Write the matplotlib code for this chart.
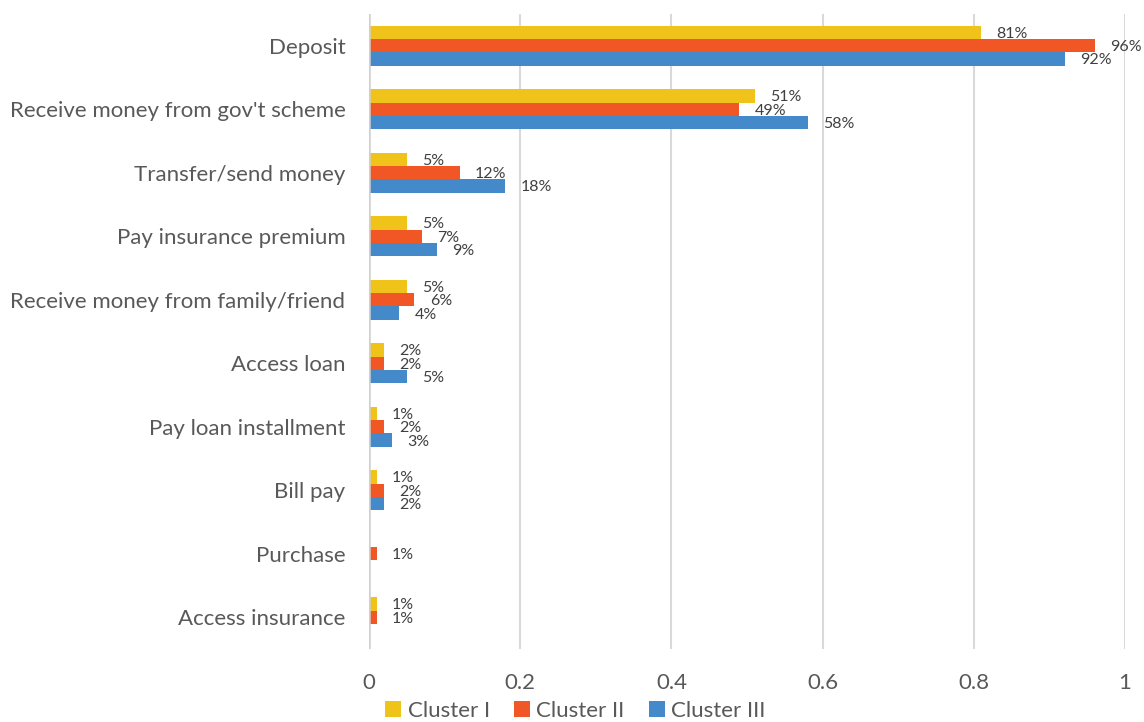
import numpy as np
import matplotlib.pyplot as plt

plt.rcParams['font.family'] = ['Lato', 'DejaVu Sans']

categories = ["Deposit", "Receive money from gov't scheme", "Transfer/send money",
              "Pay insurance premium", "Receive money from family/friend", "Access loan",
              "Pay loan installment", "Bill pay", "Purchase", "Access insurance"]
series_names = ["Cluster I", "Cluster II", "Cluster III"]
cluster_1 = [0.81, 0.51, 0.05, 0.05, 0.05, 0.02, 0.01, 0.01, np.nan, 0.01]
cluster_2 = [0.96, 0.49, 0.12, 0.07, 0.06, 0.02, 0.02, 0.02, 0.01, 0.01]
cluster_3 = [0.92, 0.58, 0.18, 0.09, 0.04, 0.05, 0.03, 0.02, np.nan, np.nan]
colors = ["#F0C31A", "#F15724", "#448ACA"]

fig = plt.figure(figsize=(11.44, 7.22), dpi=100)
ax = fig.add_axes([0.3226, 0.101, 0.6608, 0.8796])

y = np.arange(len(categories))
h = 0.21
for k, (vals, c, name) in enumerate(zip([cluster_1, cluster_2, cluster_3], colors, series_names)):
    vals = np.array(vals, dtype=float)
    pos = y + (k - 1) * h
    ok = ~np.isnan(vals)
    ax.barh(pos[ok], vals[ok], height=h, color=c, label=name, zorder=3)
    for p, v in zip(pos[ok], vals[ok]):
        ax.annotate(f"{v:.0%}", (v, p), xytext=(11, -1), textcoords='offset points',
                    ha='left', va='center', fontsize=11.5, color='#404040')

ax.set_ylim(len(categories) - 0.5, -0.5)
ax.set_xlim(0, 1)
ax.set_xticks([0, 0.2, 0.4, 0.6, 0.8, 1])
ax.set_xticklabels(["0", "0.2", "0.4", "0.6", "0.8", "1"])
ax.set_yticks(y)
ax.set_yticklabels(categories)
ax.tick_params(axis='both', length=0, labelsize=16, labelcolor='#595959')
ax.tick_params(axis='y', pad=17)
ax.tick_params(axis='x', pad=17)
ax.grid(axis='x', color='#D9D9D9', linewidth=1.5, zorder=0)
for s in ax.spines.values():
    s.set_visible(False)
ax.axvline(0, color='#D0D0D0', linewidth=1.8, zorder=4)

ax.legend(loc='lower center', bbox_to_anchor=(0.503, -0.026), bbox_transform=fig.transFigure,
          ncol=3, frameon=False, fontsize=16, labelcolor='#595959',
          handlelength=0.7, handleheight=0.7, handletextpad=0.3, columnspacing=1.1)

fig.savefig("out.png", dpi=100)
